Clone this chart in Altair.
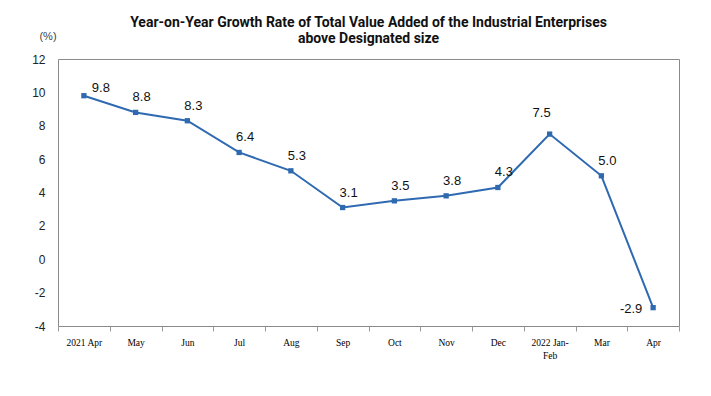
import altair as alt
import pandas as pd

months = ["2021 Apr", "May", "Jun", "Jul", "Aug", "Sep", "Oct", "Nov", "Dec",
          "2022 Jan-\nFeb", "Mar", "Apr"]
values = [9.8, 8.8, 8.3, 6.4, 5.3, 3.1, 3.5, 3.8, 4.3, 7.5, 5.0, -2.9]

df = pd.DataFrame({"month": months, "value": values, "idx": list(range(len(months)))})
df["lab"] = df["value"].map(lambda v: f"{v:.1f}")

COLOR = "#2F6AB1"

x = alt.X("month:N", sort=months, scale=alt.Scale(paddingInner=0, paddingOuter=0),
          axis=alt.Axis(title=None, labelAngle=0, labelFont="Liberation Serif", labelFontSize=9.5,
                        labelColor="#000", labelPadding=6, tickBand="extent", tickSize=5,
                        tickColor="#999", domain=False, grid=False,
                        labelExpr="split(datum.label, '\\n')", labelLineHeight=13))
y = alt.Y("value:Q", scale=alt.Scale(domain=[-4, 12], nice=False, zero=False),
          axis=alt.Axis(title=None, values=[-4, -2, 0, 2, 4, 6, 8, 10, 12], ticks=False,
                        domain=False, grid=False, labelFont="Liberation Sans", labelFontSize=12,
                        labelColor="#222", labelPadding=13, labelExpr="'' + datum.value"))

base = alt.Chart(df)
line = base.mark_line(color=COLOR, strokeWidth=2).encode(x=x, y=y)
pts = base.mark_square(color=COLOR, size=28, opacity=1).encode(x=x, y=y)

txt_kw = dict(font="Liberation Sans", fontSize=13, color="#111")
normal = base.transform_filter("datum.idx != 0 && datum.idx != 9 && datum.idx != 11").mark_text(
    dx=6, dy=-15, **txt_kw).encode(x=x, y=y, text="lab:N")
first = base.transform_filter("datum.idx == 0").mark_text(dx=17, dy=-8, **txt_kw).encode(
    x=x, y=y, text="lab:N")
peak = base.transform_filter("datum.idx == 9").mark_text(dx=-8, dy=-21, **txt_kw).encode(
    x=x, y=y, text="lab:N")
last = base.transform_filter("datum.idx == 11").mark_text(dx=-22, dy=1, **txt_kw).encode(
    x=x, y=y, text="lab:N")

unit = alt.Chart(pd.DataFrame({"t": ["(%)"]})).mark_text(
    font="Liberation Sans", fontSize=11, color="#444").encode(
    x=alt.value(-10), y=alt.value(-22), text="t:N")

chart = alt.layer(line, pts, normal, first, peak, last, unit).properties(
    width=621, height=267,
    title=alt.TitleParams(
        ["Year-on-Year Growth Rate of Total Value Added of the Industrial Enterprises",
         "above Designated size"],
        font="Roboto", fontSize=14, fontWeight="bold", color="#111",
        anchor="middle", frame="group", offset=15, lineHeight=16, dy=30),
    autosize=alt.AutoSizeParams(type="none"),
    padding={"left": 50, "top": 51, "right": 24, "bottom": 40},
).configure_view(stroke="#8a8a8a", strokeWidth=1)

chart.save("out.html", embed_options={"renderer": "svg", "actions": False})
